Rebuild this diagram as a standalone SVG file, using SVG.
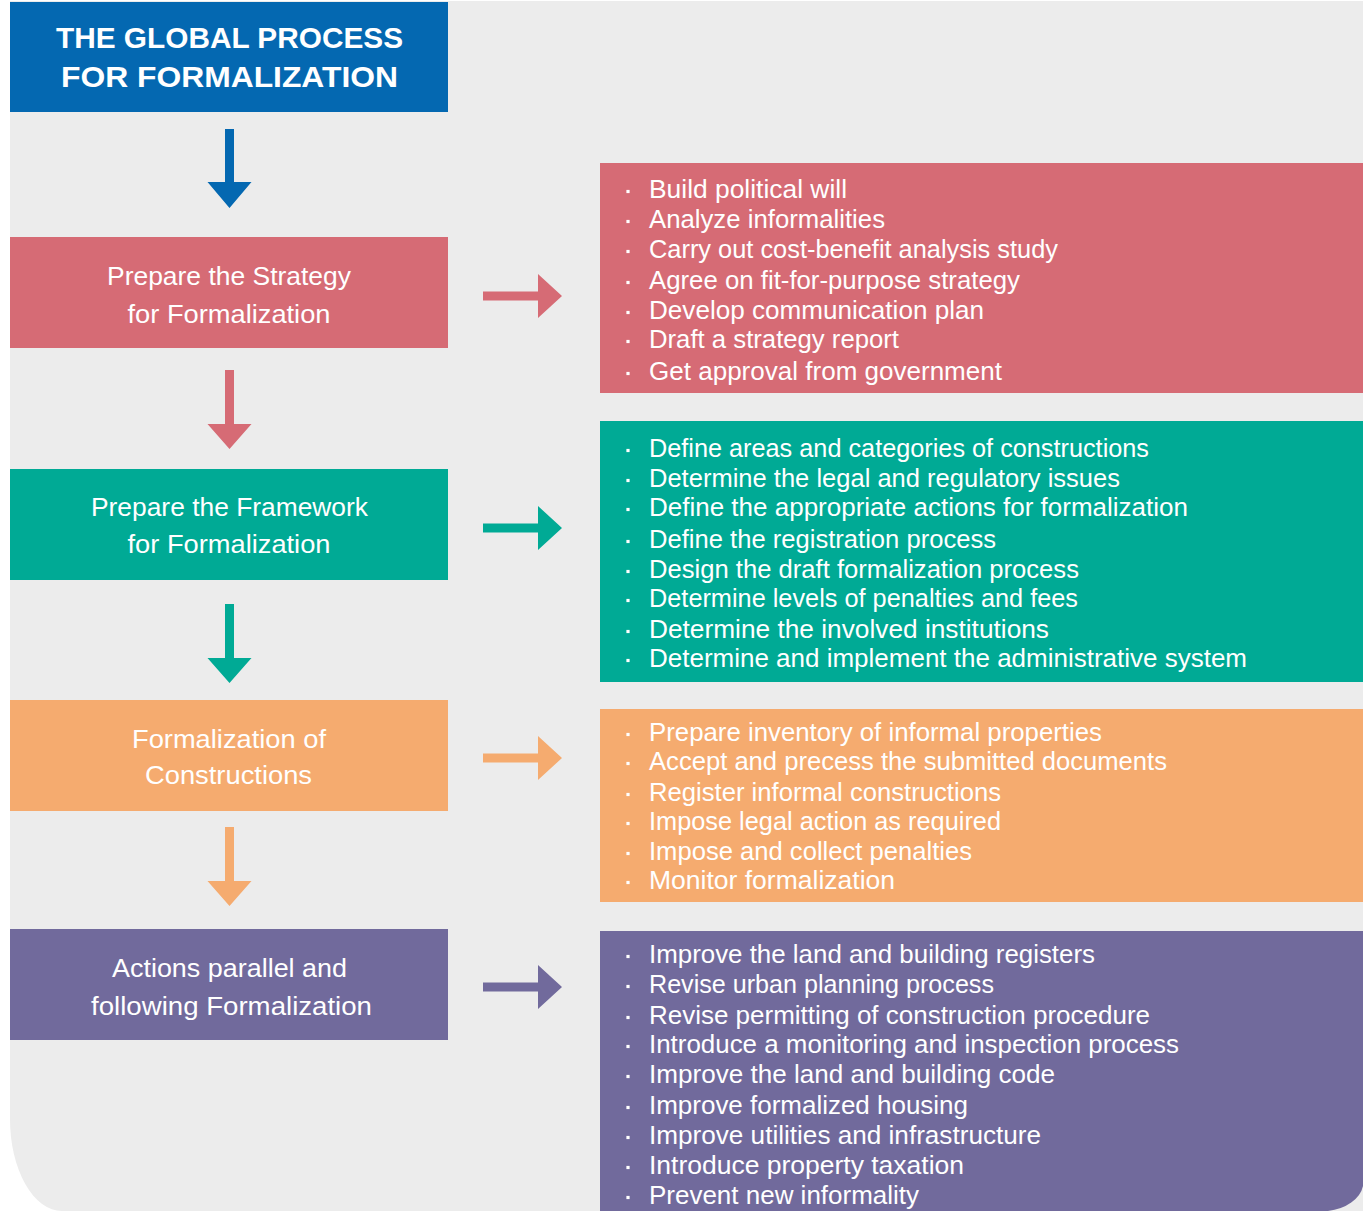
<svg xmlns="http://www.w3.org/2000/svg" width="1363" height="1211" viewBox="0 0 1363 1211">
<style>
.t{font-family:"Liberation Sans",Arial,sans-serif;fill:#ffffff}
.title{font-size:30px;font-weight:bold}
.lbl{font-size:26px;text-anchor:middle}
.li{font-size:25px}
.blue{fill:#0468b1}
.red{fill:#d66b75}
.green{fill:#00aa95}
.orange{fill:#f5ab6f}
.purple{fill:#716a9c}
.dot{fill:#ffffff}
</style>
<defs>
<rect id="b" x="-1.6" y="-1.6" width="3.2" height="3.2"/>
</defs>
<rect x="0" y="0" width="1363" height="1211" fill="#ffffff"/>
<path d="M10,1 H1363 V1211 H62 A52 92 0 0 1 10 1119 Z" fill="#ececec"/>

<g id="title">
<rect class="blue" x="10" y="2" width="438" height="110"/>
<text class="t title" x="229.5" y="48" text-anchor="middle" textLength="347" lengthAdjust="spacingAndGlyphs">THE GLOBAL PROCESS</text>
<text class="t title" x="229.5" y="87" text-anchor="middle" textLength="337" lengthAdjust="spacingAndGlyphs">FOR FORMALIZATION</text>
</g>

<g id="strategy">
<rect class="red" x="10" y="237" width="438" height="111"/>
<text class="t lbl" x="229" y="285" textLength="244" lengthAdjust="spacingAndGlyphs">Prepare the Strategy</text>
<text class="t lbl" x="229" y="323" textLength="203" lengthAdjust="spacingAndGlyphs">for Formalization</text>
</g>

<g id="framework">
<rect class="green" x="10" y="469" width="438" height="111"/>
<text class="t lbl" x="229.5" y="516" textLength="277" lengthAdjust="spacingAndGlyphs">Prepare the Framework</text>
<text class="t lbl" x="229" y="553" textLength="203" lengthAdjust="spacingAndGlyphs">for Formalization</text>
</g>

<g id="constructions">
<rect class="orange" x="10" y="700" width="438" height="111"/>
<text class="t lbl" x="229" y="748" textLength="194" lengthAdjust="spacingAndGlyphs">Formalization of</text>
<text class="t lbl" x="228.5" y="784" textLength="167" lengthAdjust="spacingAndGlyphs">Constructions</text>
</g>

<g id="actions">
<rect class="purple" x="10" y="929" width="438" height="111"/>
<text class="t lbl" x="229.5" y="977" textLength="235" lengthAdjust="spacingAndGlyphs">Actions parallel and</text>
<text class="t lbl" x="231.5" y="1015" textLength="281" lengthAdjust="spacingAndGlyphs">following Formalization</text>
</g>

<g id="strategy-tasks">
<rect class="red" x="600" y="163" width="763" height="230"/>
<g class="dot">
<use href="#b" x="628" y="191.5"/><use href="#b" x="628" y="221.5"/><use href="#b" x="628" y="251.5"/><use href="#b" x="628" y="282.5"/><use href="#b" x="628" y="312.5"/><use href="#b" x="628" y="341.5"/><use href="#b" x="628" y="373.5"/>
</g>
<text class="t li" x="649" y="198" textLength="198" lengthAdjust="spacingAndGlyphs">Build political will</text>
<text class="t li" x="649" y="228" textLength="236" lengthAdjust="spacingAndGlyphs">Analyze informalities</text>
<text class="t li" x="649" y="258" textLength="409" lengthAdjust="spacingAndGlyphs">Carry out cost-benefit analysis study</text>
<text class="t li" x="649" y="289" textLength="371" lengthAdjust="spacingAndGlyphs">Agree on fit-for-purpose strategy</text>
<text class="t li" x="649" y="319" textLength="335" lengthAdjust="spacingAndGlyphs">Develop communication plan</text>
<text class="t li" x="649" y="348" textLength="250" lengthAdjust="spacingAndGlyphs">Draft a strategy report</text>
<text class="t li" x="649" y="380" textLength="353" lengthAdjust="spacingAndGlyphs">Get approval from government</text>
</g>

<g id="framework-tasks">
<rect class="green" x="600" y="421" width="763" height="261"/>
<g class="dot">
<use href="#b" x="628" y="450.5"/><use href="#b" x="628" y="480.5"/><use href="#b" x="628" y="509.5"/><use href="#b" x="628" y="541.5"/><use href="#b" x="628" y="571.5"/><use href="#b" x="628" y="600.5"/><use href="#b" x="628" y="631.5"/><use href="#b" x="628" y="660.5"/>
</g>
<text class="t li" x="649" y="457" textLength="500" lengthAdjust="spacingAndGlyphs">Define areas and categories of constructions</text>
<text class="t li" x="649" y="487" textLength="471" lengthAdjust="spacingAndGlyphs">Determine the legal and regulatory issues</text>
<text class="t li" x="649" y="516" textLength="539" lengthAdjust="spacingAndGlyphs">Define the appropriate actions for formalization</text>
<text class="t li" x="649" y="548" textLength="347" lengthAdjust="spacingAndGlyphs">Define the registration process</text>
<text class="t li" x="649" y="578" textLength="430" lengthAdjust="spacingAndGlyphs">Design the draft formalization process</text>
<text class="t li" x="649" y="607" textLength="429" lengthAdjust="spacingAndGlyphs">Determine levels of penalties and fees</text>
<text class="t li" x="649" y="638" textLength="400" lengthAdjust="spacingAndGlyphs">Determine the involved institutions</text>
<text class="t li" x="649" y="667" textLength="598" lengthAdjust="spacingAndGlyphs">Determine and implement the administrative system</text>
</g>

<g id="constructions-tasks">
<rect class="orange" x="600" y="709" width="763" height="193"/>
<g class="dot">
<use href="#b" x="628" y="734.5"/><use href="#b" x="628" y="763.5"/><use href="#b" x="628" y="794.5"/><use href="#b" x="628" y="823.5"/><use href="#b" x="628" y="853.5"/><use href="#b" x="628" y="882.5"/>
</g>
<text class="t li" x="649" y="741" textLength="453" lengthAdjust="spacingAndGlyphs">Prepare inventory of informal properties</text>
<text class="t li" x="649" y="770" textLength="518" lengthAdjust="spacingAndGlyphs">Accept and precess the submitted documents</text>
<text class="t li" x="649" y="801" textLength="352" lengthAdjust="spacingAndGlyphs">Register informal constructions</text>
<text class="t li" x="649" y="830" textLength="352" lengthAdjust="spacingAndGlyphs">Impose legal action as required</text>
<text class="t li" x="649" y="860" textLength="323" lengthAdjust="spacingAndGlyphs">Impose and collect penalties</text>
<text class="t li" x="649" y="889" textLength="246" lengthAdjust="spacingAndGlyphs">Monitor formalization</text>
</g>

<g id="actions-tasks">
<path class="purple" d="M600,931 H1363 V1186 A42 30 0 0 1 1328 1211 H600 Z"/>
<g class="dot">
<use href="#b" x="628" y="956.5"/><use href="#b" x="628" y="986.5"/><use href="#b" x="628" y="1017.5"/><use href="#b" x="628" y="1046.5"/><use href="#b" x="628" y="1076.5"/><use href="#b" x="628" y="1107.5"/><use href="#b" x="628" y="1137.5"/><use href="#b" x="628" y="1167.5"/><use href="#b" x="628" y="1197.5"/>
</g>
<text class="t li" x="649" y="963" textLength="446" lengthAdjust="spacingAndGlyphs">Improve the land and building registers</text>
<text class="t li" x="649" y="993" textLength="345" lengthAdjust="spacingAndGlyphs">Revise urban planning process</text>
<text class="t li" x="649" y="1024" textLength="501" lengthAdjust="spacingAndGlyphs">Revise permitting of construction procedure</text>
<text class="t li" x="649" y="1053" textLength="530" lengthAdjust="spacingAndGlyphs">Introduce a monitoring and inspection process</text>
<text class="t li" x="649" y="1083" textLength="406" lengthAdjust="spacingAndGlyphs">Improve the land and building code</text>
<text class="t li" x="649" y="1114" textLength="319" lengthAdjust="spacingAndGlyphs">Improve formalized housing</text>
<text class="t li" x="649" y="1144" textLength="392" lengthAdjust="spacingAndGlyphs">Improve utilities and infrastructure</text>
<text class="t li" x="649" y="1174" textLength="315" lengthAdjust="spacingAndGlyphs">Introduce property taxation</text>
<text class="t li" x="649" y="1204" textLength="270" lengthAdjust="spacingAndGlyphs">Prevent new informality</text>
</g>

<g id="connectors">
<path class="blue" d="M225,129 H234 V182 H251.5 L229.5,208 L207.5,182 H225 Z"/>
<path class="red" d="M225,370 H234 V424 H251.5 L229.5,449 L207.5,424 H225 Z"/>
<path class="green" d="M225,604 H234 V658 H251.5 L229.5,683 L207.5,658 H225 Z"/>
<path class="orange" d="M225,827 H234 V881 H251.5 L229.5,906 L207.5,881 H225 Z"/>
<path class="red" d="M483,291.5 H538 V274 L562,296 L538,318 V300.5 H483 Z"/>
<path class="green" d="M483,523.5 H538 V506 L562,528 L538,550 V532.5 H483 Z"/>
<path class="orange" d="M483,753.5 H538 V736 L562,758 L538,780 V762.5 H483 Z"/>
<path class="purple" d="M483,982.5 H538 V965 L562,987 L538,1009 V991.5 H483 Z"/>
</g>
</svg>
